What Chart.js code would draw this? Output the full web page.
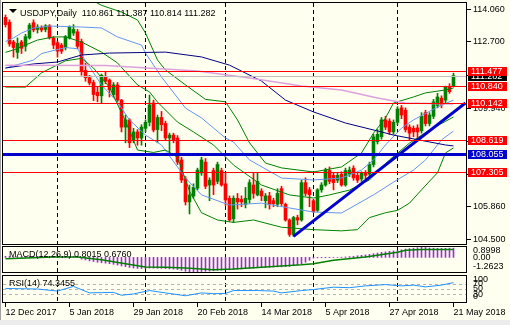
<!DOCTYPE html>
<html>
<head>
<meta charset="utf-8">
<script src="https://cdn.jsdelivr.net/npm/chart.js@4.4.0/dist/chart.umd.min.js"></script>
<style>
  html, body { margin: 0; padding: 0; background: #fffff0; }
  #wrap { position: relative; width: 510px; height: 325px; background: #fffff0; overflow: hidden; }
  #wrap canvas { position: absolute; left: 0; }
  #edge { position: absolute; left: 0; top: 0; width: 1px; height: 325px; background: #a0a0a0; }
  #foot { position: absolute; left: 0; top: 320px; width: 510px; height: 5px; background: #ececec; }
</style>
</head>
<body>
<div id="wrap">
  <canvas id="price" width="510" height="246" style="top:0"></canvas>
  <canvas id="macd" width="510" height="27" style="top:246px"></canvas>
  <canvas id="rsi" width="510" height="50" style="top:275px"></canvas>
  <div id="edge"></div>
  <div id="foot"></div>
</div>
<script>
// daily USDJPY bars, 12 Dec 2017 .. 21 May 2018 (bar index 0..112)
const opens = [113.70,113.50,112.68,112.25,112.68,112.50,112.85,113.48,113.20,113.28,
  113.20,113.35,112.85,112.65,112.55,112.45,112.85,113.05,113.10,112.70,
  111.50,111.20,111.00,110.60,110.45,111.25,111.10,110.50,110.90,110.27,
  109.15,109.45,108.60,108.95,108.70,109.10,109.35,110.15,109.05,109.55,
  109.30,108.70,108.82,108.70,107.79,107.00,106.05,106.30,106.62,107.25,
  107.70,106.75,107.35,106.90,107.35,106.80,106.20,105.35,106.20,106.15,
  105.95,106.15,106.75,106.34,106.50,106.10,106.30,106.10,105.95,106.60,
  105.95,105.30,104.70,105.40,105.30,106.85,106.55,106.10,105.70,106.55,
  106.75,107.35,107.15,106.95,107.20,106.75,107.20,107.45,107.15,107.00,
  107.25,107.20,107.60,108.55,108.75,109.45,109.40,108.95,109.35,109.95,
  109.85,109.15,109.10,109.12,109.00,109.75,109.30,109.60,110.05,110.35,
  110.27,110.80,110.861];
const highs = [113.80,113.60,112.75,112.85,112.75,113.00,113.45,113.60,113.40,113.35,
  113.40,113.40,112.90,112.72,112.62,112.95,113.35,113.40,113.20,112.80,
  111.80,111.30,111.10,110.80,111.35,111.45,111.15,111.00,111.00,110.30,
  109.65,109.50,109.10,109.05,109.25,109.45,110.48,110.27,109.65,109.80,
  109.40,108.90,108.90,108.80,107.90,107.10,106.75,106.80,107.45,107.90,
  107.85,107.05,107.45,107.70,107.45,107.25,106.30,106.30,106.40,106.30,
  106.65,106.97,107.25,107.25,106.60,106.40,106.45,106.20,106.60,106.70,
  106.00,105.35,105.45,105.50,106.95,107.05,106.65,106.15,106.60,106.85,
  107.45,107.50,107.25,107.25,107.30,107.45,107.50,107.55,107.25,107.30,
  107.35,107.70,108.85,109.05,109.55,109.60,109.50,109.45,110.00,110.05,
  109.95,109.25,109.20,109.25,109.75,109.85,109.75,110.30,110.55,110.45,
  110.85,110.95,111.387];
const lows = [113.30,112.50,112.05,112.00,112.20,112.30,112.80,113.10,113.05,113.10,
  113.10,112.80,112.40,112.05,112.20,112.35,112.80,112.95,112.40,111.30,
  111.05,110.90,110.25,110.20,110.15,110.95,110.40,110.40,110.20,108.95,
  108.50,108.30,108.50,108.40,108.40,108.95,109.20,108.95,108.50,109.00,
  108.60,108.06,108.50,107.60,106.85,105.92,105.55,106.20,106.55,107.15,
  106.60,106.10,106.35,106.80,106.70,105.90,105.25,105.20,105.75,105.85,
  105.80,106.00,106.20,106.30,106.10,105.80,105.75,105.85,105.85,105.90,
  105.25,104.62,104.62,105.10,105.25,106.30,105.85,105.60,105.65,106.45,
  106.70,106.80,106.55,106.85,106.70,106.70,107.10,106.95,106.85,106.90,
  107.00,107.10,107.50,108.45,108.65,109.05,108.85,108.85,109.25,109.50,
  108.95,108.62,108.75,108.65,108.90,109.20,109.20,109.50,109.95,109.95,
  110.15,110.55,110.814];
const closes = [113.40,112.60,112.45,112.62,112.42,112.90,113.38,113.18,113.30,113.18,
  113.35,112.85,112.55,112.30,112.30,112.90,113.30,113.20,112.50,111.45,
  111.20,110.98,110.50,110.45,111.30,111.05,110.70,110.90,110.27,109.15,
  109.45,108.50,108.95,108.70,109.15,109.35,110.07,109.03,109.55,109.25,
  108.70,108.82,108.62,107.70,106.96,106.05,106.34,106.65,107.37,107.79,
  106.70,106.95,106.75,107.60,106.75,106.13,105.30,106.20,106.05,106.05,
  106.20,106.85,106.40,106.90,106.30,106.30,105.95,105.98,106.40,105.98,
  105.30,104.70,105.40,105.30,106.85,106.40,106.35,105.65,106.55,106.75,
  107.37,106.90,106.85,107.15,106.75,107.35,107.37,107.05,106.95,107.25,
  107.15,107.60,108.75,108.85,109.45,109.15,108.95,109.35,109.90,109.65,
  109.05,108.90,108.95,108.95,109.60,109.30,109.65,110.20,110.40,110.07,
  110.80,110.62,111.282];

// indicator lines as [bar index, value]
const ma100 = [[0,111.60],[7,111.77],[13,111.85],[19,112.14],[26,112.22],[40,112.26],[49,112.06],[56,111.72],
  [64,111.06],[70,110.27],[77,109.78],[85,109.32],[94,108.95],[97,108.82],[110,108.41],[112,108.37]];
const ma200 = [[0,111.72],[25,111.70],[48,111.48],[61,111.19],[74,110.86],[84,110.69],[93,110.36],[100,110.15],[112,110.11]];
const bbMid = [[0,112.25],[2,112.35],[8,112.76],[12,112.89],[15,112.89],[19,112.68],[24,112.26],[28,111.81],[33,110.90],
  [36,110.61],[38,110.19],[43,109.36],[47,108.95],[52,108.41],[57,107.58],[64,106.75],[71,106.34],[77,106.21],
  [81,106.34],[86,106.54],[91,106.96],[96,107.79],[101,108.49],[106,109.03],[112,109.57]];
const bbUpper2 = [[0,114.60],[10,114.65],[18,114.60],[22,114.38],[24,114.20],[29,113.92],
  [33,113.59],[35,113.05],[38,111.93],[40,111.52],[45,110.90],[50,110.30],[55,110.20],[58,109.45],[61,108.50],
  [65,107.66],[69,107.46],[77,107.29],[84,107.50],[89,108.08],[92,108.90],[95,109.53],[97,110.15],[102,110.40],
  [105,110.57],[110,110.69],[112,110.77]];
const bbUpper1 = [[0,112.70],[2,112.85],[4,113.05],[7,113.26],[11,113.34],[19,113.30],[24,113.26],[28,112.89],
  [34,112.55],[35,112.22],[39,111.23],[45,109.94],[49,109.53],[55,108.70],[57,108.53],[61,107.79],[69,107.04],
  [77,106.96],[84,107.04],[89,107.37],[92,107.79],[95,108.41],[99,109.11],[102,109.45],[108,109.98],[112,110.27]];
const bbLower1 = [[0,111.60],[7,111.93],[9,112.20],[15,112.45],[18,112.40],[24,110.90],[28,110.19],[31,109.45],
  [35,108.82],[39,108.41],[45,107.04],[49,106.34],[56,105.92],[64,106.00],[71,105.80],[77,105.63],[84,105.59],
  [92,106.34],[97,106.87],[102,107.37],[105,107.79],[109,108.62],[112,108.99]];
const bbLower2 = [[0,110.81],[5,110.81],[9,111.40],[15,111.90],[19,112.00],[22,111.60],[26,110.80],[30,109.40],
  [33,108.20],[37,108.10],[40,108.20],[43,107.90],[46,106.50],[49,105.60],[53,105.30],[57,105.20],[62,105.30],
  [69,105.00],[77,104.90],[84,104.85],[88,104.90],[91,105.40],[95,105.60],[98,105.70],[101,106.00],[104,106.55],
  [108,107.26],[110,108.08],[112,108.29]];
const trendLine = [[72,104.62],[115,110.15]];

const redLevels = [111.477, 110.840, 110.142, 108.619, 107.305];
const blueLevel = 108.055;
const lastPrice = 111.282;
const priceTicks = [114.06, 112.70, 111.32, 109.94, 108.58, 107.22, 105.86, 104.50];

const macdMain = [0.10,0.08,0.06,0.05,0.05,0.06,0.08,0.10,0.10,0.10,
  0.10,0.08,0.06,0.04,0.03,0.04,0.06,0.08,0.06,-0.15,
  -0.22,-0.30,-0.36,-0.42,-0.46,-0.50,-0.55,-0.60,-0.66,-0.74,
  -0.80,-0.87,-0.92,-0.95,-0.96,-0.95,-0.92,-0.93,-0.94,-0.95,
  -0.97,-0.99,-1.01,-1.05,-1.12,-1.20,-1.24,-1.25,-1.2623,-1.22,
  -1.20,-1.18,-1.16,-1.12,-1.10,-1.08,-1.08,-1.05,-1.02,-1.00,
  -0.98,-0.95,-0.93,-0.90,-0.88,-0.86,-0.85,-0.84,-0.82,-0.82,
  -0.80,-0.78,-0.72,-0.65,-0.55,-0.42,-0.25,-0.06,-0.04,-0.03,
  -0.03,-0.02,-0.01,0.01,0.02,0.04,0.07,0.10,0.14,0.18,
  0.22,0.26,0.32,0.38,0.44,0.48,0.52,0.56,0.60,0.66,
  0.72,0.76,0.80,0.84,0.8998,0.86,0.82,0.80,0.79,0.78,
  0.79,0.80,0.8015];
const macdSignal = [[0,-0.11],[12,0.03],[18,0.03],[24,-0.20],[30,-0.54],[35,-0.83],[40,-0.86],[45,-0.91],[52,-1.06],
  [57,-1.00],[65,-0.83],[74,-0.63],[77,-0.54],[82,-0.25],[90,0.03],[98,0.44],[100,0.62],[104,0.68],[108,0.69],[112,0.676]];
const macdTicks = [0.8998, 0, -1.2623];
const macdTickText = ['0.8998', '0.00', '-1.2623'];

const rsi = [[0,52],[8,50],[13,42],[17,60],[21,35],[24,36],[27,37],[29,26],[32,31],[36,44],[40,35],[45,24],[49,35],
  [52,32],[55,33],[57,44],[63,44],[67,42],[69,35],[74,44],[77,48],[82,57],[86,55],[90,62],[95,67],[99,62],[102,65],
  [105,58],[109,65],[112,74.3455]];
const rsiLevels = [70, 50, 30];
const rsiTicks = [100, 70, 50, 30, 0];

const dateTicks = [[0,'12 Dec 2017'],[16,'5 Jan 2018'],[32,'29 Jan 2018'],[48,'20 Feb 2018'],
  [64,'14 Mar 2018'],[80,'5 Apr 2018'],[96,'27 Apr 2018'],[112,'21 May 2018']];
const monthStarts = [13, 35, 55, 77, 98];

// 4px per bar, bar 0 centred at x=5.5
const xMin = -0.625, xMax = 115.125;
const FONT = '9px "Liberation Sans", Arial, sans-serif';
const pts = arr => arr.map(([i, v]) => ({x: i, y: v}));
const candleColor = opens.map((o, i) => closes[i] >= o ? '#008000' : '#ff0000');

function baseOptions(yMin, yMax, pad) {
  return {
    responsive: false, animation: false, events: [],
    layout: {padding: pad},
    scales: {
      x: {type: 'linear', min: xMin, max: xMax, offset: false, display: false},
      y: {min: yMin, max: yMax, display: false}
    },
    plugins: {legend: {display: false}, tooltip: {enabled: false}}
  };
}

function drawSeparators(chart) {
  const {ctx, chartArea: a, scales: {x}} = chart;
  ctx.save();
  ctx.strokeStyle = '#000'; ctx.lineWidth = 1; ctx.setLineDash([4, 3]);
  monthStarts.forEach(i => {
    const px = x.getPixelForValue(i);
    ctx.beginPath(); ctx.moveTo(px, a.top); ctx.lineTo(px, a.bottom); ctx.stroke();
  });
  ctx.restore();
}

function drawFrame(chart) {
  const {ctx, chartArea: a} = chart;
  ctx.save();
  ctx.strokeStyle = '#000'; ctx.lineWidth = 1;
  ctx.strokeRect(a.left - 0.5, a.top - 0.5, a.right - a.left + 1, a.bottom - a.top + 1);
  ctx.restore();
}

function priceBox(ctx, a, y, text, bg) {
  const cy = Math.round(y);
  ctx.fillStyle = bg;
  ctx.fillRect(a.right + 2, cy - 4, 39, 9);
  ctx.fillStyle = '#fff';
  ctx.fillText(text, a.right + 5, cy + 0.5);
}

const pricePanel = {
  id: 'pricePanel',
  beforeDatasetsDraw(chart) { drawSeparators(chart); },
  afterDatasetsDraw(chart) {
    const {ctx, chartArea: a, scales: {y}} = chart;
    ctx.save();
    ctx.lineWidth = 1;
    ctx.strokeStyle = '#c0c0c0';
    let py = Math.round(y.getPixelForValue(lastPrice)) + 0.5;
    ctx.beginPath(); ctx.moveTo(a.left, py); ctx.lineTo(a.right, py); ctx.stroke();
    ctx.strokeStyle = '#ff0000';
    redLevels.forEach(v => {
      const p = Math.round(y.getPixelForValue(v)) + 0.5;
      ctx.beginPath(); ctx.moveTo(a.left, p); ctx.lineTo(a.right, p); ctx.stroke();
    });
    ctx.strokeStyle = '#0000cd'; ctx.lineWidth = 3;
    py = Math.round(y.getPixelForValue(blueLevel)) + 0.5;
    ctx.beginPath(); ctx.moveTo(a.left, py); ctx.lineTo(a.right, py); ctx.stroke();
    ctx.restore();
  },
  afterDraw(chart) {
    const {ctx, chartArea: a, scales: {y}} = chart;
    drawFrame(chart);
    ctx.save();
    ctx.font = FONT; ctx.textBaseline = 'middle'; ctx.fillStyle = '#000';
    ctx.strokeStyle = '#000'; ctx.lineWidth = 1;
    priceTicks.forEach(v => {
      const p = Math.round(y.getPixelForValue(v)) + 0.5;
      ctx.beginPath(); ctx.moveTo(a.right + 1, p); ctx.lineTo(a.right + 5, p); ctx.stroke();
      ctx.fillText(v.toFixed(3), a.right + 7, p);
    });
    priceBox(ctx, a, y.getPixelForValue(lastPrice), lastPrice.toFixed(3), '#000');
    redLevels.forEach(v => priceBox(ctx, a, y.getPixelForValue(v), v.toFixed(3), '#ff0000'));
    priceBox(ctx, a, y.getPixelForValue(blueLevel), blueLevel.toFixed(3), '#0000cd');
    // header
    ctx.fillStyle = '#000';
    ctx.beginPath(); ctx.moveTo(9, 9); ctx.lineTo(17, 9); ctx.lineTo(13, 13); ctx.closePath(); ctx.fill();
    ctx.textBaseline = 'alphabetic';
    ctx.fillText('USDJPY,Daily  ' + [opens[112], highs[112], lows[112], closes[112]].map(v => v.toFixed(3)).join(' '), 20, 16);
    ctx.restore();
  }
};

function line(data, color, width, order) {
  return {type: 'line', data: pts(data), borderColor: color, borderWidth: width,
    pointRadius: 0, tension: 0, order: order};
}

new Chart(document.getElementById('price'), {
  type: 'bar',
  data: {
    datasets: [
      line(trendLine, '#0000cd', 3, 0),
      line(ma200, '#dda0dd', 1.5, 1),
      line(ma100, '#000080', 1, 1),
      line(bbUpper2, '#008000', 1, 1),
      line(bbMid, '#008000', 1, 1),
      line(bbLower2, '#008000', 1, 1),
      line(bbUpper1, '#6495ed', 1, 1),
      line(bbLower1, '#6495ed', 1, 1),
      {data: highs.map((h, i) => ({x: i, y: [lows[i], h]})), backgroundColor: candleColor,
        barThickness: 1, grouped: false, order: 6},
      {data: opens.map((o, i) => ({x: i, y: [o, closes[i]]})), backgroundColor: candleColor,
        barThickness: 3, grouped: false, minBarLength: 1, order: 5}
    ]
  },
  options: baseOptions(104.305, 114.296, {left: 3, right: 44, top: 3, bottom: 2}),
  plugins: [pricePanel]
});

function subLabels(chart, ticks, texts) {
  const {ctx, chartArea: a, scales: {y}} = chart;
  ctx.save();
  ctx.font = FONT; ctx.textBaseline = 'middle'; ctx.fillStyle = '#000';
  ticks.forEach((v, k) => {
    const p = Math.min(Math.max(y.getPixelForValue(v), a.top + 4), a.bottom - 5);
    ctx.fillText(texts[k], a.right + 7, p);
  });
  ctx.restore();
}

new Chart(document.getElementById('macd'), {
  type: 'bar',
  data: {
    datasets: [
      line(macdSignal, '#008000', 1.5, 0),
      {data: macdMain.map((v, i) => ({x: i, y: v})), backgroundColor: '#9932cc',
        barThickness: 1, grouped: false, order: 2}
    ]
  },
  options: baseOptions(-1.2623, 0.8998, {left: 3, right: 44, top: 1, bottom: 1}),
  plugins: [{
    id: 'macdPanel',
    beforeDatasetsDraw(chart) { drawSeparators(chart); },
    afterDraw(chart) {
      drawFrame(chart);
      subLabels(chart, macdTicks, macdTickText);
      const ctx = chart.ctx;
      ctx.save(); ctx.font = FONT; ctx.fillStyle = '#000'; ctx.textBaseline = 'middle';
      ctx.fillText('MACD(12,26,9) ' + macdMain[112].toFixed(4) + ' ' + macdSignal[macdSignal.length - 1][1].toFixed(4), 9, 9);
      ctx.restore();
    }
  }]
});

new Chart(document.getElementById('rsi'), {
  type: 'line',
  data: {datasets: [line(rsi, '#1e90ff', 1, 0)]},
  options: baseOptions(0, 100, {left: 3, right: 44, top: 1, bottom: 23}),
  plugins: [{
    id: 'rsiPanel',
    beforeDatasetsDraw(chart) {
      const {ctx, chartArea: a, scales: {y}} = chart;
      drawSeparators(chart);
      ctx.save();
      ctx.strokeStyle = '#b4b4b4'; ctx.lineWidth = 1; ctx.setLineDash([3, 3]);
      rsiLevels.forEach(v => {
        const p = Math.round(y.getPixelForValue(v)) + 0.5;
        ctx.beginPath(); ctx.moveTo(a.left, p); ctx.lineTo(a.right, p); ctx.stroke();
      });
      ctx.restore();
    },
    afterDraw(chart) {
      const {ctx, chartArea: a, scales: {x}} = chart;
      drawFrame(chart);
      subLabels(chart, rsiTicks, rsiTicks.map(String));
      ctx.save();
      ctx.font = FONT; ctx.fillStyle = '#000'; ctx.strokeStyle = '#000'; ctx.lineWidth = 1;
      ctx.textBaseline = 'middle';
      ctx.fillText('RSI(14) ' + rsi[rsi.length - 1][1].toFixed(4), 9, 9);
      ctx.textBaseline = 'alphabetic';
      dateTicks.forEach(([i, label]) => {
        const px = x.getPixelForValue(i);
        ctx.beginPath(); ctx.moveTo(px, a.bottom + 1); ctx.lineTo(px, a.bottom + 5); ctx.stroke();
        ctx.fillText(label, px, a.bottom + 12.5);
      });
      ctx.restore();
    }
  }]
});
</script>
</body>
</html>
